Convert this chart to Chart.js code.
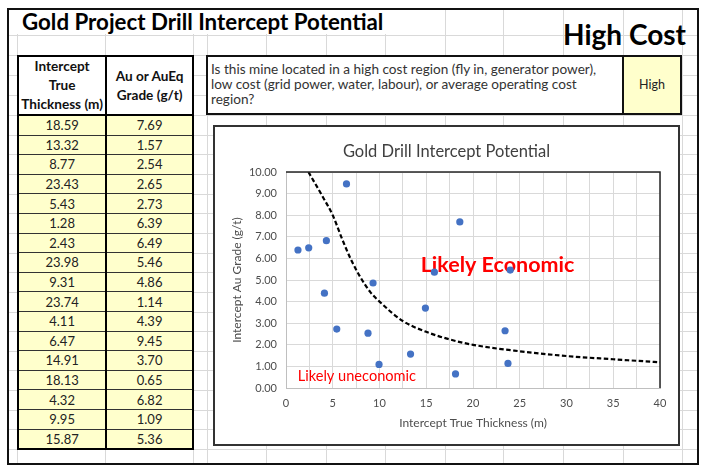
<!DOCTYPE html>
<html>
<head>
<meta charset="utf-8">
<script src="https://cdn.jsdelivr.net/npm/chart.js@4.4.1/dist/chart.umd.min.js"></script>
<style>
  html,body{margin:0;padding:0;background:#fff;}
  body{width:705px;height:471px;position:relative;overflow:hidden;font-family:Lato,"Noto Sans",sans-serif;}
  .abs{position:absolute;box-sizing:border-box;}
  .gl{position:absolute;background:#d9d9d9;}
  #frame{left:7px;top:8px;width:692px;height:457px;border:2px solid #111;}
  #title{left:10px;top:10px;width:376px;height:24px;background:#fff;font-weight:bold;font-size:22.3px;line-height:24px;color:#000;padding-left:12px;white-space:nowrap;}
  #hicost{right:19px;top:17px;font-weight:bold;font-size:28px;line-height:34px;color:#000;white-space:nowrap;}
  #tbl{left:17px;top:55px;width:177px;border:2px solid #000;border-collapse:collapse;}
  #tbl td{border:1px solid #333;width:88px;text-align:center;font-size:13px;color:#222;padding:0;background:#ffffcc;height:18.6px;line-height:18px;}
  #tbl th{border:2px solid #000;background:#fff;font-weight:bold;font-size:13.6px;line-height:19px;height:57px;padding:0;color:#111;}
  #tbl .c1{border-right:2px solid #000;}
  #q{left:206px;top:55px;width:476px;height:60px;border:2px solid #111;background:#fff;}
  #qtext{left:208px;top:57px;width:405px;height:56px;font-size:13.6px;line-height:15px;color:#333;padding:5px 0 0 3px;}
  #qans{left:622px;top:57px;width:58px;height:56px;background:#ffffcc;border-left:2px solid #111;font-size:12.5px;color:#222;text-align:center;line-height:56px;}
  #chartbox{left:213px;top:125px;width:467px;height:321px;border:2px solid #333;background:#fff;}
  #cwrap{position:absolute;left:0;top:0;width:463px;height:317px;}
</style>
</head>
<body>
<script>
// ---- data ----
const thickness = [18.59, 13.32, 8.77, 23.43, 5.43, 1.28, 2.43, 23.98, 9.31, 23.74, 4.11, 6.47, 14.91, 18.13, 4.32, 9.95, 15.87];
const grade     = [7.69, 1.57, 2.54, 2.65, 2.73, 6.39, 6.49, 5.46, 4.86, 1.14, 4.39, 9.45, 3.70, 0.65, 6.82, 1.09, 5.36];
const curveX = [2.4, 4, 5, 6, 7, 8, 9, 10, 12.5, 15, 17.5, 20, 25, 30, 35, 40];
const curveY = [10.0, 8.8, 8.0, 6.9, 5.9, 5.1, 4.45, 4.0, 3.1, 2.6, 2.25, 2.0, 1.7, 1.48, 1.33, 1.19];
const headers = ["Intercept<br>True<br>Thickness (m)", "Au or AuEq<br>Grade (g/t)"];
const pageTitle = "Gold Project Drill Intercept Potential";
const costLabel = "High Cost";
const question = "Is this mine located in a high cost region (fly in, generator power), low cost (grid power, water, labour), or average operating cost region?";
const answer = "High";
const chartTitle = "Gold Drill Intercept Potential";
const xTitle = "Intercept True Thickness (m)";
const yTitle = "Intercept Au Grade (g/t)";
const econLabel = "Likely Economic";
const unecLabel = "Likely uneconomic";
</script>
<div id="frame" class="abs"></div>
<div id="grid"></div>
<div id="title" class="abs"></div>
<div id="hicost" class="abs"></div>
<table id="tbl" class="abs"></table>
<div id="q" class="abs"></div>
<div id="qtext" class="abs"></div>
<div id="qans" class="abs"></div>
<div id="chartbox" class="abs"><div id="cwrap"><canvas id="c"></canvas></div></div>
<script>
// spreadsheet gridlines (layout only)
const colLines = [17,105,193,207,266,326,385,445,503,563,623,682];
const rowLines = [35,55,75,95];
for (let k=0;k<=17;k++) rowLines.push(115+k*19.65);
const g = document.getElementById('grid');
colLines.forEach(x=>{const d=document.createElement('div');d.className='gl';d.style.cssText=`left:${x}px;top:10px;width:1px;height:453px;`;g.appendChild(d);});
rowLines.forEach(y=>{const d=document.createElement('div');d.className='gl';d.style.cssText=`left:9px;top:${Math.round(y)}px;width:688px;height:1px;`;g.appendChild(d);});

document.getElementById('title').textContent = pageTitle;
document.getElementById('hicost').textContent = costLabel;
document.getElementById('qtext').textContent = question;
document.getElementById('qans').textContent = answer;
let html = `<tr><th class="c1">${headers[0]}</th><th>${headers[1]}</th></tr>`;
for (let i=0;i<thickness.length;i++){
  html += `<tr><td class="c1">${thickness[i].toFixed(2)}</td><td>${grade[i].toFixed(2)}</td></tr>`;
}
document.getElementById('tbl').innerHTML = html;

const FONT = 'Lato';
const annot = {
  id:'annot',
  beforeDatasetsDraw(chart){
    const {ctx, scales:{x,y}} = chart;
    ctx.save();
    ctx.fillStyle = '#ff0000';
    ctx.textBaseline = 'middle';
    ctx.textAlign = 'left';
    ctx.font = `bold 21.5px ${FONT}`;
    ctx.fillText(econLabel, x.getPixelForValue(14.4), y.getPixelForValue(5.7));
    ctx.font = `14.6px ${FONT}`;
    ctx.fillText(unecLabel, x.getPixelForValue(1.25), y.getPixelForValue(0.55));
    ctx.restore();
  },
  afterDraw(chart){
    const {ctx, chartArea:a} = chart;
    ctx.save();
    ctx.strokeStyle = '#262626';
    ctx.lineWidth = 1.5;
    ctx.beginPath();
    ctx.moveTo(a.left, a.top); ctx.lineTo(a.right, a.top); ctx.lineTo(a.right, a.bottom);
    ctx.stroke();
    ctx.restore();
  }
};

new Chart(document.getElementById('c'), {
  data: {
    datasets: [
      { type:'scatter', label:'Intercepts', data: thickness.map((t,i)=>({x:t,y:grade[i]})),
        backgroundColor:'#4472c4', borderColor:'#4472c4', pointRadius:3.6, borderWidth:0, order:1 },
      { type:'line', label:'Threshold', data: curveX.map((t,i)=>({x:t,y:curveY[i]})),
        borderColor:'#000', borderWidth:2.2, borderDash:[4.5,2.5], pointRadius:0, fill:false,
        tension:0.4, cubicInterpolationMode:'monotone', order:2 }
    ]
  },
  options: {
    responsive:true, maintainAspectRatio:false, animation:false,
    layout:{padding:{left:0,right:0,top:0,bottom:0}},
    plugins:{
      legend:{display:false}, tooltip:{enabled:false},
      title:{display:true, text:chartTitle, color:'#404040', font:{family:FONT,size:16.5,weight:'normal'}, padding:{top:15.1,bottom:10.1}}
    },
    scales:{
      x:{ type:'linear', min:0, max:40,
        ticks:{stepSize:2.5, color:'#4d4d4d', font:{family:FONT,size:11}, padding:9, maxRotation:0,
          callback:(v)=> (v%5===0 ? String(v) : '')},
        grid:{color:'#d9d9d9', lineWidth:1, drawTicks:false},
        border:{color:'#bfbfbf', width:1},
        title:{display:true, text:xTitle, color:'#4d4d4d', font:{family:FONT,size:12}, padding:{top:0,bottom:13.8}},
        afterFit:(s)=>{s.height=56;}
      },
      y:{ min:0, max:10,
        ticks:{stepSize:1, color:'#4d4d4d', font:{family:FONT,size:11}, padding:9, callback:(v)=>v.toFixed(2)},
        grid:{color:'#d9d9d9', lineWidth:1, drawTicks:false},
        border:{color:'#bfbfbf', width:1},
        title:{display:true, text:yTitle, color:'#4d4d4d', font:{family:FONT,size:12}, padding:{top:14.8,bottom:0}},
        afterFit:(s)=>{s.width=71;}
      },
      yR:{ position:'right', min:0, max:10, display:true,
        ticks:{display:false}, grid:{display:false, drawTicks:false}, border:{display:false},
        afterFit:(s)=>{s.width=18;}
      }
    }
  },
  plugins:[annot]
});
</script>
</body>
</html>
